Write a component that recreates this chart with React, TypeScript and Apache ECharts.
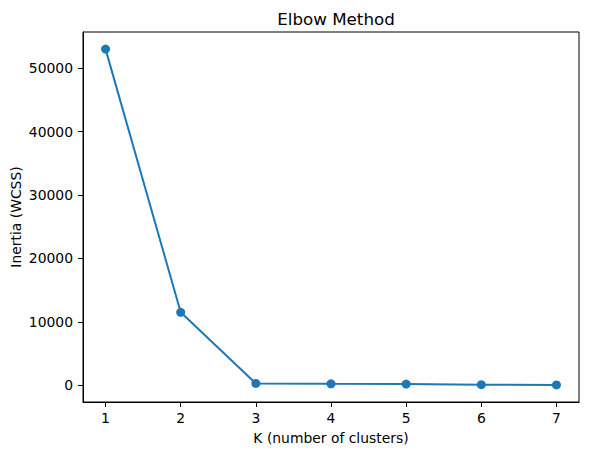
import React, { useEffect, useRef } from "react";
import * as echarts from "echarts";

const kValues = [1, 2, 3, 4, 5, 6, 7];
const inertia = [53000, 11500, 280, 220, 180, 80, 40];
const xTicks = [1, 2, 3, 4, 5, 6, 7];
const yTicks = [0, 10000, 20000, 30000, 40000, 50000];

const FONT = "DejaVu Sans";

export default function App() {
  const ref = useRef<HTMLDivElement>(null);
  useEffect(() => {
    if (!ref.current) return;
    const chart = echarts.init(ref.current, null, { renderer: "svg" });
    chart.setOption({
      animation: false,
      backgroundColor: "#ffffff",
      title: {
        text: "Elbow Method",
        left: 331,
        top: 5,
        textAlign: "center",
        textStyle: { fontFamily: FONT, fontSize: 16.7, fontWeight: "normal", color: "#000" },
      },
      grid: {
        left: 83,
        top: 32,
        width: 496,
        height: 370,
        outerBoundsMode: "none",
        containLabel: false,
        show: true,
        borderColor: "#000",
        borderWidth: 1,
        backgroundColor: "transparent",
      },
      xAxis: {
        type: "value",
        min: 0.7,
        max: 7.3,
        name: "K (number of clusters)",
        nameLocation: "middle",
        nameGap: 29,
        nameMoveOverlap: false,
        nameTextStyle: { fontFamily: FONT, fontSize: 13.9, color: "#000" },
        axisLine: { show: true, onZero: false, lineStyle: { color: "#000", width: 1 } },
        axisTick: { show: true, length: 5, lineStyle: { color: "#000" }, customValues: xTicks },
        axisLabel: {
          fontFamily: FONT,
          fontSize: 13.9,
          color: "#000",
          margin: 9,
          customValues: xTicks,
          formatter: (v: number) => String(v),
        },
        splitLine: { show: false },
      },
      yAxis: {
        type: "value",
        min: -2650,
        max: 55700,
        name: "Inertia (WCSS)",
        nameLocation: "middle",
        nameGap: 60,
        nameMoveOverlap: false,
        nameRotate: 90,
        nameTextStyle: { fontFamily: FONT, fontSize: 13.9, color: "#000" },
        axisLine: { show: true, onZero: false, lineStyle: { color: "#000", width: 1 } },
        axisTick: { show: true, length: 5, lineStyle: { color: "#000" }, customValues: yTicks },
        axisLabel: {
          fontFamily: FONT,
          fontSize: 13.9,
          color: "#000",
          margin: 10,
          customValues: yTicks,
          formatter: (v: number) => String(v),
        },
        splitLine: { show: false },
      },
      series: [
        {
          type: "line",
          data: kValues.map((k, i) => [k, inertia[i]]),
          symbol: "circle",
          symbolSize: 9,
          lineStyle: { color: "#1f77b4", width: 2 },
          itemStyle: { color: "#1f77b4" },
        },
      ],
    });
    return () => chart.dispose();
  }, []);
  return (
    <div
      ref={ref}
      style={{ position: "absolute", left: 0, top: 0, width: 589, height: 455 }}
    />
  );
}
